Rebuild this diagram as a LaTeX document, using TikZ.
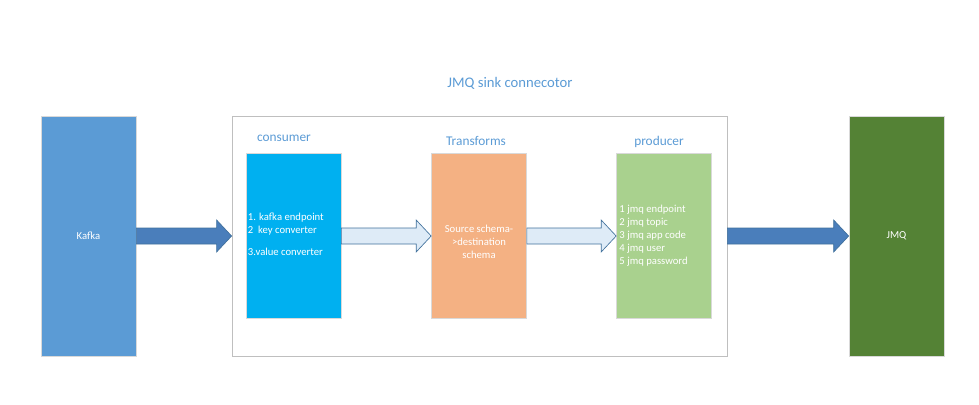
\documentclass[tikz,border=0pt]{standalone}
\usepackage{fontspec}
\setmainfont{Carlito}
\usepackage{xcolor}
\usepackage{tikz}
\usetikzlibrary{positioning,calc}

\definecolor{kafkablue}{HTML}{5B9BD5}
\definecolor{consumercyan}{HTML}{00B0F0}
\definecolor{transorange}{HTML}{F4B183}
\definecolor{producergreen}{HTML}{A9D18E}
\definecolor{jmqgreen}{HTML}{548235}
\definecolor{arrowfill}{HTML}{4A7EBB}
\definecolor{arrowedge}{HTML}{41719C}
\definecolor{paleblue}{HTML}{DEEBF7}
\definecolor{titleblue}{HTML}{5B9BD5}

% block arrow from the east side of #2 to the west side of #3
\newcommand{\blockarrow}[3]{%
  \draw[#1] ($(#2.east)+(0,-8)$) -- ($(#3.west)+(-15,-8)$) -- ($(#3.west)+(-15,-16)$)
    -- (#3.west) -- ($(#3.west)+(-15,16)$) -- ($(#3.west)+(-15,8)$)
    -- ($(#2.east)+(0,8)$) -- cycle;}

\begin{document}
\begin{tikzpicture}[
    x=0.75pt, y=-0.75pt,
    % --- boxes ---
    bigbox/.style={rectangle, draw=black!15, line width=0.5pt, fill=#1,
      minimum width=71.25pt, minimum height=180pt, inner sep=0pt,
      text=white, font=\fontsize{8}{9.75}\selectfont},
    smallbox/.style={bigbox=#1, minimum height=123.75pt},
    boxtext/.style={text=white, font=\fontsize{8}{9.75}\selectfont, inner sep=0pt},
    header/.style={text=titleblue, font=\fontsize{10}{12}\selectfont},
    % --- arrows ---
    darkarrow/.style={fill=arrowfill, draw=arrowedge, line width=0.5pt},
    lightarrow/.style={fill=paleblue, draw=arrowedge, line width=0.5pt}
  ]
  \useasboundingbox (0,0) rectangle (979,404);

  % title
  \node[text=titleblue, font=\fontsize{11}{13}\selectfont] (title) at (510,83) {JMQ sink connecotor};

  % connector frame
  \node[rectangle, draw=black!25, line width=0.6pt, minimum width=371.25pt,
    minimum height=180pt] (frame) at (479.5,236) {};

  % outer systems
  \node[bigbox=kafkablue] (kafka) at (88.5,236) {Kafka};
  \node[bigbox=jmqgreen] (jmq) at (896.5,236) {JMQ};

  % stages inside the connector
  \node[smallbox=consumercyan] (consumer) at (293.5,236) {};
  \node[smallbox=transorange] (transforms) at (479,236) {};
  \node[smallbox=producergreen] (producer) at (664,236) {};

  \node[header] (consumerlabel) at (284,138) {consumer};
  \node[header] (transformslabel) at (476,141) {Transforms};
  \node[header] (producerlabel) at (659,142) {producer};

  \node[boxtext, align=left, anchor=west] (consumertext) at ([xshift=1.5pt,yshift=1pt]consumer.west)
    {1. kafka endpoint\\2\ \ key converter\\[6.75pt]3.value converter};
  \node[boxtext, align=center] (transformstext) at ([yshift=-4.5pt]transforms.center)
    {Source schema-\\>destination\\schema};
  \node[boxtext, align=left, anchor=west] (producertext) at ([xshift=2.25pt]producer.west)
    {1 jmq endpoint\\2 jmq topic\\3 jmq app code\\4 jmq user\\5 jmq password};

  % arrows
  \blockarrow{darkarrow}{kafka}{frame}
  \blockarrow{lightarrow}{consumer}{transforms}
  \blockarrow{lightarrow}{transforms}{producer}
  \blockarrow{darkarrow}{frame}{jmq}
\end{tikzpicture}
\end{document}
